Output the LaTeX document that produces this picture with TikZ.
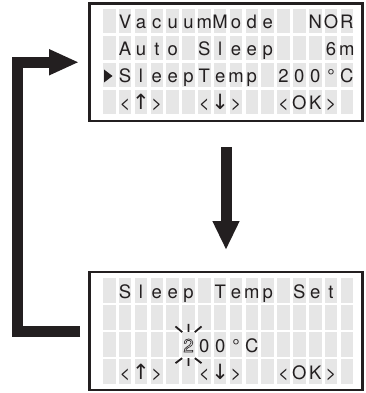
\documentclass[tikz,border=0pt]{standalone}
\usepackage{fontspec}
\setmainfont{TeX Gyre Heros}
\newfontfamily\symfont{DejaVu Sans}
\usepackage{xcolor}
\usetikzlibrary{arrows.meta,positioning}

\definecolor{cellgray}{RGB}{230,230,230}
\definecolor{inkblack}{RGB}{35,31,32}

\newcommand\uparr{{\symfont\fontsize{21}{21}\selectfont ↑}}
\newcommand\dnarr{{\symfont\fontsize{21}{21}\selectfont ↓}}
\newcommand\outlined[1]{\special{pdf:literal direct 1 Tr 0.6 w}#1\special{pdf:literal direct 0 Tr}}
% name, top of first row, row, first column, characters
\newcommand\lcdline[5]{%
  \foreach [count=\k from #4] \ch in {#5}
    \node[lcdchar] (#1-#3-\k) at ({109.3+(\k-1)*15.84},{#2+(#3-1)*27+20}) {\ch};}

\tikzset{
  lcdbox/.style={draw=inkblack, line width=2.5pt, minimum width=273pt, inner sep=0pt, outer sep=0pt},
  lcdchar/.style={anchor=base, inner sep=0pt, font=\fontsize{18.5}{20}\selectfont, text=inkblack},
  flowarrow/.style={draw=inkblack, line width=11pt, -{Triangle[length=30pt,width=24pt]}},
  blink/.style={draw=inkblack, line width=1.8pt},
}

\begin{document}
\begin{tikzpicture}[x=1pt,y=-1pt]
  \useasboundingbox (0,0) rectangle (366,393);

  \node[lcdbox, minimum height=117.5pt] (menu) at (226,62.25) {};
  \node[lcdbox, minimum height=118pt] (set) at (226,331) {};

  % character cells
  \foreach \ytop in {9,278}
    \foreach \r in {0,...,3}
      \foreach \c in {0,...,15}
        \fill[cellgray] ({103+\c*15.84},{\ytop+\r*27}) rectangle ++(12.6,24.5);

  % menu screen
  \lcdline{menu}{9}{1}{2}{V,a,c,u,u,m,M,o,d,e}
  \lcdline{menu}{9}{1}{14}{N,O,R}
  \lcdline{menu}{9}{2}{2}{A,u,t,o}
  \lcdline{menu}{9}{2}{7}{S,l,e,e,p}
  \lcdline{menu}{9}{2}{15}{6,m}
  \fill[inkblack] (104,69.5) -- (112.5,76) -- (104,82.5) -- cycle;
  \lcdline{menu}{9}{3}{2}{S,l,e,e,p,T,e,m,p}
  \lcdline{menu}{9}{3}{12}{2,0,0,°,C}
  \lcdline{menu}{9}{4}{2}{<,\uparr,>}
  \lcdline{menu}{9}{4}{7}{<,\dnarr,>}
  \lcdline{menu}{9}{4}{12}{<,O,K,>}

  % setting screen
  \lcdline{set}{278}{1}{2}{S,l,e,e,p}
  \lcdline{set}{278}{1}{8}{T,e,m,p}
  \lcdline{set}{278}{1}{13}{S,e,t}
  \node[lcdchar] (set-3-6) at ({109.3+5*15.84},352) {\outlined{2}};
  \lcdline{set}{278}{3}{7}{0,0,°,C}
  \lcdline{set}{278}{4}{2}{<,\uparr,>}
  \lcdline{set}{278}{4}{7}{<,\dnarr,>}
  \lcdline{set}{278}{4}{12}{<,O,K,>}

  \begin{scope}[shift={(set-3-6.center)}]
    \draw[blink] (-13,-19) -- (-6.3,-13.3) (0,-21.5) -- (0,-13.5) (13,-19) -- (6.3,-13.3);
    \draw[blink] (-13,17.7) -- (-6.3,12.7) (0,12.8) -- (0,20.5) (13,17.7) -- (6.3,12.7);
  \end{scope}

  % connectors
  \draw[flowarrow, -{Triangle[length=29pt,width=25pt]}, shorten <=26pt, shorten >=22pt]
    (menu.south) -- (set.north);
  \draw[flowarrow, shorten <=9.5pt, shorten >=10.5pt]
    (set.west) -- ++(-72,0) |- (menu.west);

\end{tikzpicture}
\end{document}
